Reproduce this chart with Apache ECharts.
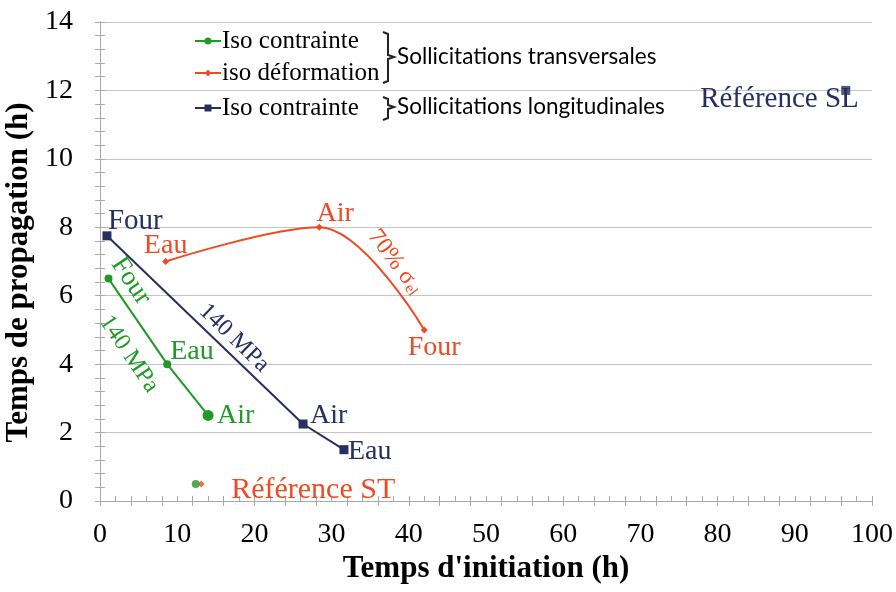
<!DOCTYPE html>
<html><head><meta charset="utf-8">
<script src="https://cdn.jsdelivr.net/npm/echarts@6/dist/echarts.min.js"></script>
<style>html,body{margin:0;padding:0;background:#fff}#c{width:896px;height:592px}</style>
</head><body><div id="c"></div>
<script>
// ---- data ----
const stContrainteX = [1.1, 8.7, 14.0];
const stContrainteY = [6.5, 4.0, 2.5];
const stContrainteLabels = ['Four', 'Eau', 'Air'];

const stDeformationX = [8.5, 28.4, 42.0];
const stDeformationY = [7.0, 8.0, 5.0];
const stDeformationLabels = ['Eau', 'Air', 'Four'];

const slContrainteX = [0.9, 26.3, 31.6];
const slContrainteY = [7.75, 2.25, 1.5];
const slContrainteLabels = ['Four', 'Air', 'Eau'];

const refSL = [96.6, 12.0];
const refSTContrainte = [12.4, 0.5];
const refSTDeformation = [13.1, 0.5];

const xTicks = [0, 10, 20, 30, 40, 50, 60, 70, 80, 90, 100];
const yTicks = [0, 2, 4, 6, 8, 10, 12, 14];

const legendNames = ['Iso contrainte', 'iso déformation', 'Iso contrainte'];
const groupNames = ['Sollicitations transversales', 'Sollicitations longitudinales'];
const xTitle = "Temps d'initiation (h)";
const yTitle = 'Temps de propagation (h)';

// ---- styles ----
const GREEN = '#1f9a26', ORANGE = '#ef4a22', NAVY = '#272e62';
const SERIF = '"Liberation Serif","Times New Roman",serif';
const SANS = 'Lato,"Liberation Sans",sans-serif';
const BORDER = '#a8a8a8';

const zip = (xs, ys) => xs.map((x, i) => [x, ys[i]]);

const chart = echarts.init(document.getElementById('c'), null, {renderer: 'canvas'});
const tickStyle = {show: true, inside: true, length: 5, lineStyle: {color: BORDER}};
const minorStyle = {show: true, splitNumber: 5, length: 5, lineStyle: {color: BORDER}};

chart.setOption({
  animation: false,
  backgroundColor: '#fff',
  grid: {left: 100, right: 24, top: 22, bottom: 91, containLabel: false, outerBoundsMode: 'none'},
  xAxis: [{
    type: 'value', min: xTicks[0], max: xTicks[xTicks.length - 1], interval: 10,
    axisLine: {lineStyle: {color: BORDER, width: 1}},
    axisTick: tickStyle, minorTick: minorStyle,
    splitLine: {show: false},
    axisLabel: {fontFamily: SERIF, fontSize: 28, color: '#000', margin: 20},
    name: xTitle, nameLocation: 'middle', nameGap: 52,
    nameTextStyle: {fontFamily: SERIF, fontSize: 31, fontWeight: 'bold', color: '#000'}
  }, {
    type: 'value', position: 'top', min: 0, max: 100, interval: 4,
    axisLine: {show: true, lineStyle: {color: BORDER}},
    axisTick: tickStyle, axisLabel: {show: false}, splitLine: {show: false}
  }],
  yAxis: [{
    type: 'value', min: yTicks[0], max: yTicks[yTicks.length - 1], interval: 2,
    axisLine: {show: true, lineStyle: {color: BORDER}},
    axisTick: tickStyle, minorTick: minorStyle,
    splitLine: {show: true, lineStyle: {color: '#c4c4c4', width: 1}},
    axisLabel: {fontFamily: SERIF, fontSize: 28, color: '#000', margin: 27},
    name: yTitle, nameLocation: 'middle', nameGap: 66,
    nameTextStyle: {fontFamily: SERIF, fontSize: 31, fontWeight: 'bold', color: '#000', padding: [0, 22, 0, 0]}
  }, {
    type: 'value', position: 'right', min: 0, max: 14, interval: 2,
    axisLine: {show: true, lineStyle: {color: BORDER}},
    axisTick: tickStyle, minorTick: minorStyle,
    axisLabel: {show: false}, splitLine: {show: false}
  }],
  series: [
    {
      name: 'ST contrainte', type: 'line', data: zip(stContrainteX, stContrainteY),
      symbol: 'circle', symbolSize: (v, p) => p.dataIndex === 2 ? 11 : 8,
      lineStyle: {color: GREEN, width: 2}, itemStyle: {color: GREEN}, z: 3
    },
    {
      name: 'ST deformation', type: 'line', smooth: 0.35, data: zip(stDeformationX, stDeformationY),
      symbol: 'diamond', symbolSize: 7,
      lineStyle: {color: ORANGE, width: 2}, itemStyle: {color: ORANGE}, z: 3
    },
    {
      name: 'SL contrainte', type: 'line', data: zip(slContrainteX, slContrainteY),
      symbol: 'rect', symbolSize: 9,
      lineStyle: {color: NAVY, width: 2}, itemStyle: {color: NAVY}, z: 3
    },
    {
      name: 'Ref SL', type: 'scatter', data: [refSL], symbol: 'rect', symbolSize: 9,
      itemStyle: {color: NAVY}, z: 3
    },
    {
      name: 'Ref ST contrainte', type: 'scatter', data: [refSTContrainte], symbol: 'circle', symbolSize: 8,
      itemStyle: {color: GREEN}, z: 3
    },
    {
      name: 'Ref ST deformation', type: 'scatter', data: [refSTDeformation], symbol: 'diamond', symbolSize: 7,
      itemStyle: {color: ORANGE}, z: 4
    }
  ]
});

// ---- annotations placed from data via the chart's scales ----
const px = (pt) => chart.convertToPixel({xAxisIndex: 0, yAxisIndex: 0}, pt);
const g = [];
function pointLabel(pt, text, color, align, dx, dy, size) {
  const p = px(pt);
  g.push({type: 'text', x: p[0] + dx, y: p[1] + dy, z: 10,
    style: {text: text, fill: color, font: (size || 28) + 'px ' + SERIF, align: align, verticalAlign: 'middle'}});
}
const slPts = zip(slContrainteX, slContrainteY);
pointLabel(slPts[0], slContrainteLabels[0], NAVY, 'left', 1, -14, 29);
pointLabel(slPts[1], slContrainteLabels[1], NAVY, 'left', 7, -8);
pointLabel(slPts[2], slContrainteLabels[2], NAVY, 'left', 4, 2);
pointLabel(refSL, 'Référence SL', NAVY, 'right', 13, 9, 29);

const gPts = zip(stContrainteX, stContrainteY);
pointLabel(gPts[1], stContrainteLabels[1], GREEN, 'left', 3, -13);
pointLabel(gPts[2], stContrainteLabels[2], GREEN, 'left', 9, 0);

const oPts = zip(stDeformationX, stDeformationY);
pointLabel(oPts[0], stDeformationLabels[0], ORANGE, 'center', 0, -16);
pointLabel(oPts[1], stDeformationLabels[1], ORANGE, 'center', 16, -14);
pointLabel(oPts[2], stDeformationLabels[2], ORANGE, 'center', 10, 18);
pointLabel(refSTDeformation, 'Référence ST', ORANGE, 'left', 30, 6, 30);

// rotated annotations along the lines
function rotText(x, y, deg, text, color, size, rich) {
  const s = {text: text, fill: color, font: size + 'px ' + SERIF, align: 'center', verticalAlign: 'middle'};
  if (rich) s.rich = rich;
  g.push({type: 'text', x: x, y: y, rotation: -deg * Math.PI / 180, z: 10, style: s});
}
rotText(131, 281, 56, stContrainteLabels[0], GREEN, 27);
rotText(129, 354, 56, '140 MPa', GREEN, 24);
rotText(234, 338, 44, '140 MPa', NAVY, 24);
rotText(395, 262, 53, '{a|70% σ}{b|el}', ORANGE, 24, {
  a: {fontSize: 24, fontFamily: SERIF, fill: ORANGE, verticalAlign: 'bottom'},
  b: {fontSize: 15, fontFamily: SERIF, fill: ORANGE, verticalAlign: 'bottom', padding: [0, 0, 0, 1]}
});

// ---- legend ----
const legendRows = [
  {y: 41, color: GREEN, sym: 'circle', name: legendNames[0]},
  {y: 73, color: ORANGE, sym: 'diamond', name: legendNames[1]},
  {y: 108, color: NAVY, sym: 'rect', name: legendNames[2]}
];
legendRows.forEach(r => {
  g.push({type: 'line', shape: {x1: 195, y1: r.y, x2: 221, y2: r.y}, style: {stroke: r.color, lineWidth: 2}, z: 10});
  if (r.sym === 'circle') g.push({type: 'circle', shape: {cx: 208, cy: r.y, r: 3.5}, style: {fill: r.color}, z: 11});
  if (r.sym === 'diamond') g.push({type: 'polygon', shape: {points: [[208, r.y - 3.5], [211, r.y], [208, r.y + 3.5], [205, r.y]]}, style: {fill: r.color}, z: 11});
  if (r.sym === 'rect') g.push({type: 'rect', shape: {x: 204.5, y: r.y - 3.5, width: 7, height: 7}, style: {fill: r.color}, z: 11});
  g.push({type: 'text', x: 222, y: r.y, z: 11, style: {text: r.name, fill: '#000', font: '25px ' + SERIF, align: 'left', verticalAlign: 'middle'}});
});
g.push({type: 'polyline', z: 11, shape: {points: [[383, 32], [388, 34], [388, 55], [394, 57], [388, 59], [388, 81], [383, 83]]},
  style: {stroke: '#222', lineWidth: 2, fill: null}});
g.push({type: 'polyline', z: 11, shape: {points: [[383, 97], [388, 99], [388, 105], [394, 107], [388, 109], [388, 118], [383, 120]]},
  style: {stroke: '#222', lineWidth: 2, fill: null}});
g.push({type: 'text', x: 397, y: 57, z: 11, style: {text: groupNames[0], fill: '#000', font: '22.5px ' + SANS, align: 'left', verticalAlign: 'middle'}});
g.push({type: 'text', x: 397, y: 107, z: 11, style: {text: groupNames[1], fill: '#000', font: '22.5px ' + SANS, align: 'left', verticalAlign: 'middle'}});

chart.setOption({graphic: g});
</script>
</body></html>
